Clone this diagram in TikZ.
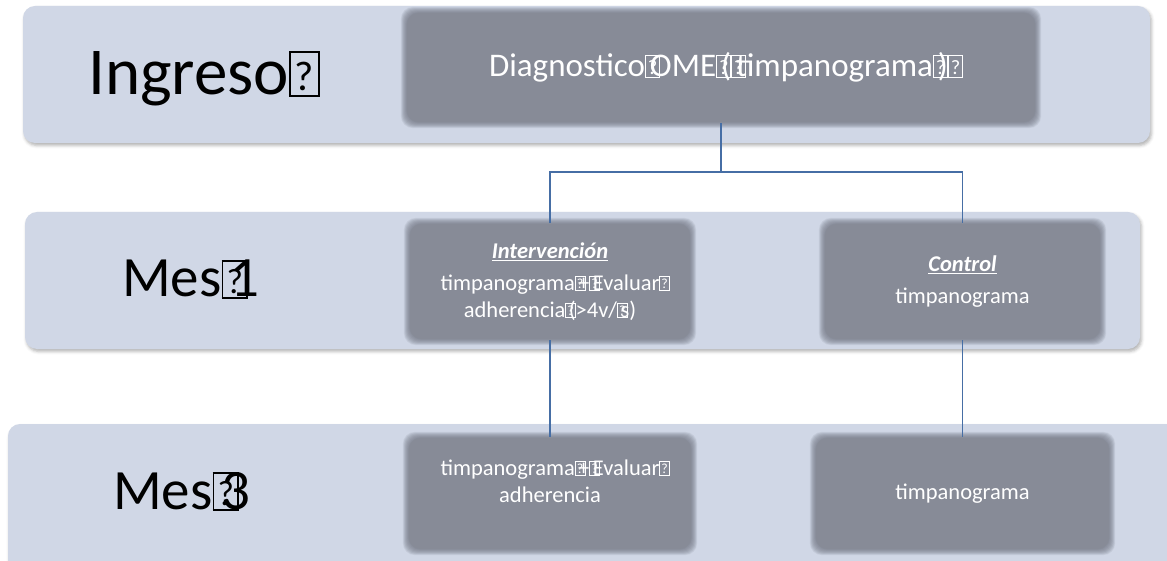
\documentclass[tikz,border=0pt]{standalone}
\usepackage{fontspec}
\setmainfont{Carlito}
\usetikzlibrary{shadows.blur}

\definecolor{bandfill}{RGB}{208,215,230}
\definecolor{boxfill}{RGB}{135,139,151}
\definecolor{boxedge}{RGB}{118,122,134}
\definecolor{linkblue}{RGB}{70,110,165}

\pgfdeclarelayer{bandlayer}
\pgfdeclarelayer{boxlayer}
\pgfsetlayers{bandlayer,boxlayer,main}

% framed question mark standing in for an unavailable glyph
\newcommand\qb{\rlap{\fboxsep=0pt\fboxrule=0.03em\fbox{\makebox[0.4em]{\rule{0pt}{0.62em}\raisebox{0.06em}{\scalebox{0.62}{?}}}}}\hspace{0.15em}}

% soft-edged grey panel behind a named node
\newcommand\softpanel[1]{%
  \begin{pgfonlayer}{boxlayer}
    \foreach \k in {5,4.5,...,-1}{
      \fill[boxedge, opacity=0.1, rounded corners=12pt]
        ([shift={(-\k,-\k)}]#1.north west) rectangle ([shift={(\k,\k)}]#1.south east);
    }
    \foreach \k in {1,1.5,...,4}{
      \fill[boxfill, opacity=0.3, rounded corners=11pt]
        ([shift={(\k,\k)}]#1.north west) rectangle ([shift={(-\k,-\k)}]#1.south east);
    }
    \fill[boxfill, rounded corners=9pt]
      ([shift={(4.5,4.5)}]#1.north west) rectangle ([shift={(-4.5,-4.5)}]#1.south east);
  \end{pgfonlayer}}

\begin{document}
\begin{tikzpicture}[x=1pt,y=-1pt,
  band/.style={rounded corners=12pt, fill=bandfill, draw=none,
    blur shadow={shadow xshift=1.5pt, shadow yshift=-2.5pt,
      shadow blur radius=3pt, shadow opacity=30}},
  darkbox/.style={draw=none, text=white, align=center, inner sep=0pt,
    font=\fontsize{22.5}{27}\selectfont},
  rowlabel/.style={anchor=base west, inner sep=0pt, text=black},
  conn/.style={draw=linkblue, line width=1.8pt}
]
\useasboundingbox (0,0) rectangle (1167,561);

% horizontal bands, one per time point
\begin{pgfonlayer}{bandlayer}
\node[band, minimum width=1127pt, minimum height=137pt] (bandA) at (586.5,74.5) {};
\node[band, minimum width=1115pt, minimum height=137pt] (bandB) at (582.5,280.5) {};
\node[band, minimum width=1172pt, minimum height=151pt] (bandC) at (594,499.5) {};
\end{pgfonlayer}

% row labels
\node[rowlabel, font=\fontsize{67}{80}\selectfont] (lblA) at (88,95) {Ingreso\qb};
\node[rowlabel, font=\fontsize{57}{68}\selectfont] (lblB) at (122,297) {Mes\qb 1};
\node[rowlabel, font=\fontsize{57}{68}\selectfont] (lblC) at (113,509) {Mes\qb 3};

% grey boxes
\node[darkbox, minimum width=630pt, minimum height=111pt,
  font=\fontsize{33}{40}\selectfont] (diag) at (721,67.5)
  {\raisebox{4pt}{Diagnostico\qb OME\qb(\qb timpanograma\qb)\qb}};
\node[darkbox, minimum width=282pt, minimum height=117pt] (interv) at (550,281.5)
  {\underline{\textbf{\textit{Intervención}}}\\[5pt]
   timpanograma\qb+\qb Evaluar\qb\\ adherencia\qb(>4v/\qb s)};
\node[darkbox, minimum width=277pt, minimum height=117pt] (control) at (962.5,281.5)
  {\underline{\textbf{\textit{Control}}}\\[5pt] timpanograma};
\node[darkbox, minimum width=284pt, minimum height=113pt] (mthreeA) at (550,493.5)
  {timpanograma\qb+\qb Evaluar\qb\\ adherencia\\[-2pt]\mbox{}};
\node[darkbox, minimum width=295pt, minimum height=113pt] (mthreeB) at (962.5,493.5)
  {timpanograma};

\softpanel{diag}
\softpanel{interv}
\softpanel{control}
\softpanel{mthreeA}
\softpanel{mthreeB}

% connectors
\draw[conn] (diag.south) -- ++(0,49) coordinate (fork);
\draw[conn] (fork) -| (interv.north);
\draw[conn] (fork) -| (control.north);
\draw[conn] (interv.south) -- (interv.south |- mthreeA.north);
\draw[conn] (control.south) -- (control.south |- mthreeB.north);
\end{tikzpicture}
\end{document}
